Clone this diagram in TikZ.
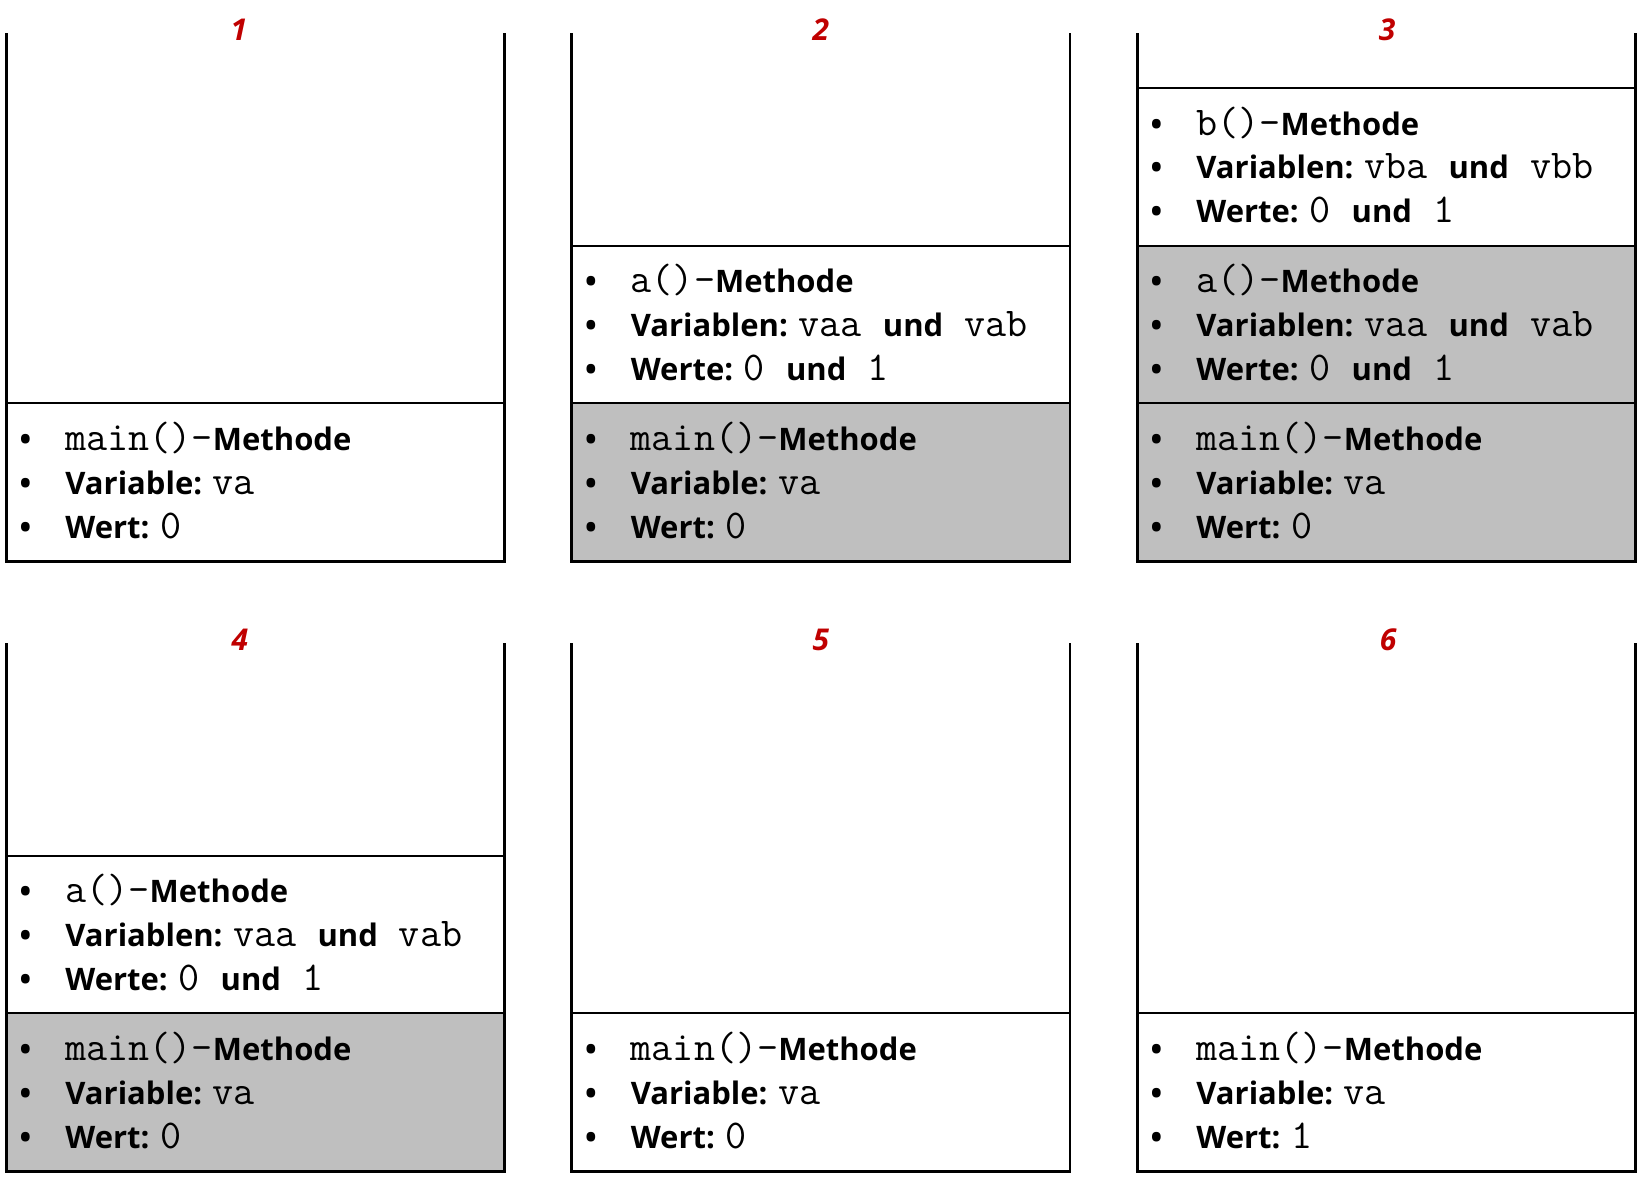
\documentclass[tikz,border=0pt]{standalone}
\usepackage{fontspec}
\setsansfont{Open Sans}
\setmonofont{Latin Modern Mono}[Scale=1.32]
\usetikzlibrary{positioning}

\definecolor{stepred}{HTML}{C00000}
\definecolor{framegray}{HTML}{BFBFBF}

\newcommand{\cd}[1]{{\normalfont\ttfamily #1}}
\newcommand{\itm}{\makebox[22.85pt][l]{\textbullet}}
\newcommand{\mainblock}[1]{\itm\cd{main()-}Methode\\ \itm Variable: \cd{va}\\ \itm Wert: \cd{#1}}
\newcommand{\ablock}{\itm\cd{a()-}Methode\\ \itm Variablen: \cd{vaa }und\cd{ vab}\\ \itm Werte: \cd{0 }und\cd{ 1}}
\newcommand{\bblock}{\itm\cd{b()-}Methode\\ \itm Variablen: \cd{vba }und\cd{ vbb}\\ \itm Werte: \cd{0 }und\cd{ 1}}

\begin{document}
\begin{tikzpicture}[x=0.5pt,y=-0.5pt]
\tikzset{wall/.style={line width=1.35pt}, frm/.style={draw,line width=0.85pt,fill=white}, act/.style={frm,fill=framegray},
  txt/.style={anchor=west,align=left,inner sep=0pt,font=\sffamily\bfseries\fontsize{15.5}{21.8}\selectfont},
  num/.style={text=stepred,inner sep=0pt,font=\sffamily\bfseries\itshape\fontsize{15}{18}\selectfont}};
   \useasboundingbox (0,0) rectangle (1638,1180);

   % step numbers
   \node[num] (n1) at (239,30) {1};
   \node[num] (n2) at (821,30) {2};
   \node[num] (n3) at (1387,30) {3};
   \node[num] (n4) at (240,640) {4};
   \node[num] (n5) at (821,640) {5};
   \node[num] (n6) at (1388,640) {6};

   % 1
   \draw[frm] (6.3,403.3) rectangle (504.3,561.7);
   \node[txt] (m1) at (19.3,480.5) {\mainblock{0}};

   % 2
   \draw[frm] (571.7,245.7) rectangle (1070,403.3);
   \draw[act] (571.7,403.3) rectangle (1070,561.7);
   \node[txt] (a2) at (584.7,322.5) {\ablock};
   \node[txt] (m2) at (584.7,480.5) {\mainblock{0}};

   % 3
   \draw[frm] (1137.3,87.7) rectangle (1635.3,245.7);
   \draw[act] (1137.3,245.7) rectangle (1635.3,403.3);
   \draw[act] (1137.3,403.3) rectangle (1635.3,561.7);
   \node[txt] (b3) at (1150.3,164.7) {\bblock};
   \node[txt] (a3) at (1150.3,322.5) {\ablock};
   \node[txt] (m3) at (1150.3,480.5) {\mainblock{0}};

   % 4
   \draw[frm] (6.3,855.7) rectangle (504.3,1013.3);
   \draw[act] (6.3,1013.3) rectangle (504.3,1171.7);
   \node[txt] (a4) at (19.3,932.5) {\ablock};
   \node[txt] (m4) at (19.3,1090.5) {\mainblock{0}};

   % 5
   \draw[frm] (571.7,1013.3) rectangle (1070,1171.7);
   \node[txt] (m5) at (584.7,1090.5) {\mainblock{0}};

   % 6
   \draw[frm] (1137.3,1013.3) rectangle (1635.3,1171.7);
   \node[txt] (m6) at (1150.3,1090.5) {\mainblock{1}};

   % stack walls
   \foreach \L/\R in {6.3/504.3, 571.7/1070, 1137.3/1635.3}
      \foreach \T/\B in {33.3/561.7, 643.3/1171.7}
         \draw[wall] (\L,\T) |- (\R,\B) -- (\R,\T);

\end{tikzpicture}
\end{document}
